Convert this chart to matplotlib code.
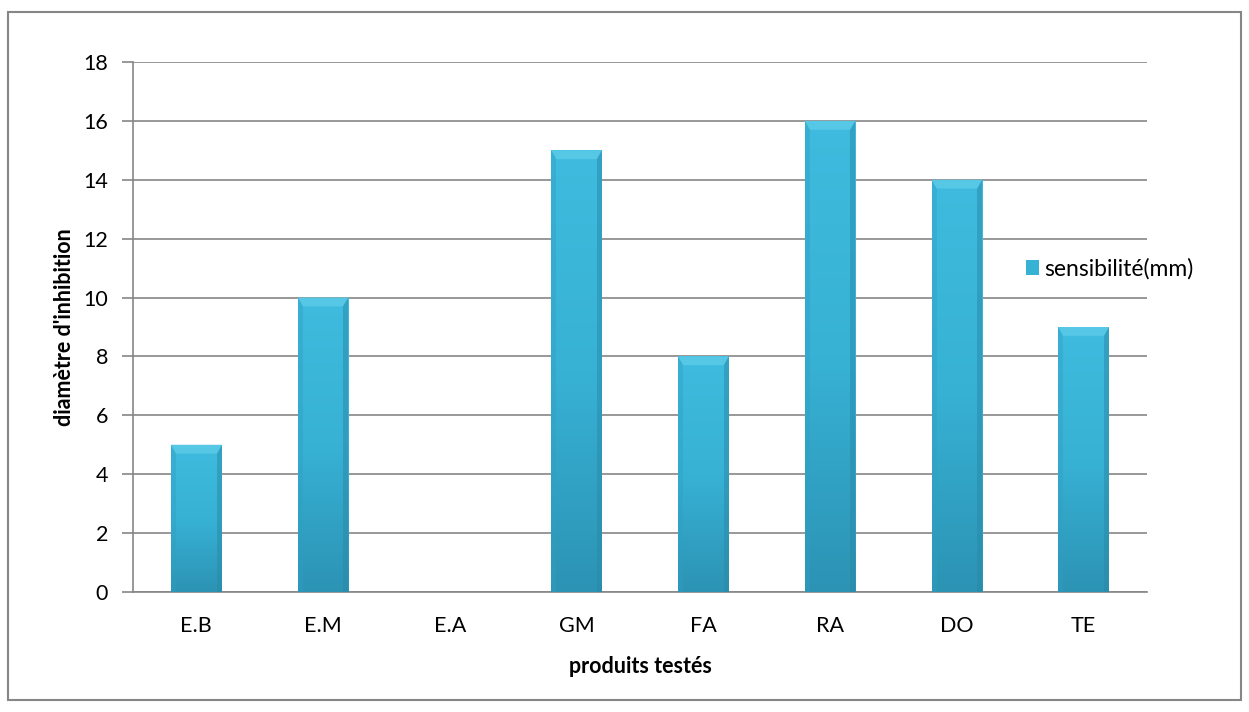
import numpy as np
import matplotlib

matplotlib.use("Agg")
import matplotlib.pyplot as plt
from matplotlib.patches import Polygon, Rectangle
from matplotlib.colors import LinearSegmentedColormap

categories = ["E.B", "E.M", "E.A", "GM", "FA", "RA", "DO", "TE"]
sensibilite = [5, 10, 0, 15, 8, 16, 14, 9]
y_ticks = [0, 2, 4, 6, 8, 10, 12, 14, 16, 18]

plt.rcParams["font.family"] = ["Lato", "DejaVu Sans"]
FS = 15.5

fig = plt.figure(figsize=(12.49, 7.12), dpi=100)
fig.patches.append(Rectangle((8 / 1249, 12 / 712), 1233 / 1249, 688 / 712,
                             transform=fig.transFigure, fill=False,
                             edgecolor="#868686", linewidth=1.5))
ax = fig.add_axes([133 / 1249, 1 - 592 / 712, 1014 / 1249, 530 / 712])

x = np.arange(len(categories))
width = 0.4
bars = ax.bar(x, sensibilite, width=width, color="#35b2d4", edgecolor="none",
              zorder=3, label="sensibilité(mm)")

cmap = LinearSegmentedColormap.from_list("bar", ["#2c93b4", "#37b2d5", "#3ebbde"])
grad = np.linspace(0, 1, 256).reshape(-1, 1)
for b in bars:
    h = b.get_height()
    if h <= 0:
        continue
    x0, w = b.get_x(), b.get_width()
    im = ax.imshow(grad, extent=[x0, x0 + w, 0, h], origin="lower", cmap=cmap,
                   aspect="auto", zorder=3)
    im.set_clip_path(b)
    # bevel: top highlight, side shading
    bev_x = w * 0.1
    bev_y = 0.3
    ax.add_patch(Polygon([[x0, h], [x0 + w, h], [x0 + w - bev_x, h - bev_y],
                          [x0 + bev_x, h - bev_y]], closed=True,
                         facecolor="#56c8e6", edgecolor="none", zorder=4))
    ax.add_patch(Polygon([[x0 + w, h], [x0 + w, 0], [x0 + w - bev_x, 0],
                          [x0 + w - bev_x, h - bev_y]], closed=True,
                         facecolor="#2a89a8", edgecolor="none", alpha=0.5, zorder=4))
    ax.add_patch(Polygon([[x0, h], [x0, 0], [x0 + bev_x, 0],
                          [x0 + bev_x, h - bev_y]], closed=True,
                         facecolor="#2f9fc2", edgecolor="none", alpha=0.4, zorder=4))

ax.set_xlim(-0.5, len(categories) - 0.5)
ax.set_ylim(0, 18)
ax.set_yticks(y_ticks)
ax.set_xticks(x)
ax.set_xticklabels(categories)
ax.yaxis.grid(True, color="#868686", linewidth=1.2, zorder=0)
ax.set_axisbelow(True)

for side in ["top", "right"]:
    ax.spines[side].set_visible(False)
for side in ["left", "bottom"]:
    ax.spines[side].set_color("#868686")
    ax.spines[side].set_linewidth(1.2)

ax.tick_params(axis="y", length=8, width=1.2, color="#868686", labelsize=FS, pad=10)
ax.tick_params(axis="x", length=0, labelsize=FS, pad=17)

ax.set_xlabel("produits testés", fontsize=FS, fontweight="bold", labelpad=15)
ax.set_ylabel("diamètre d'inhibition", fontsize=FS, fontweight="bold", labelpad=6)

leg = ax.legend(loc="center left", bbox_to_anchor=(0.86, 0.61), frameon=False,
                fontsize=FS + 1, handlelength=0.6, handleheight=0.6, handletextpad=0.2)

fig.savefig("out.png", dpi=100)
